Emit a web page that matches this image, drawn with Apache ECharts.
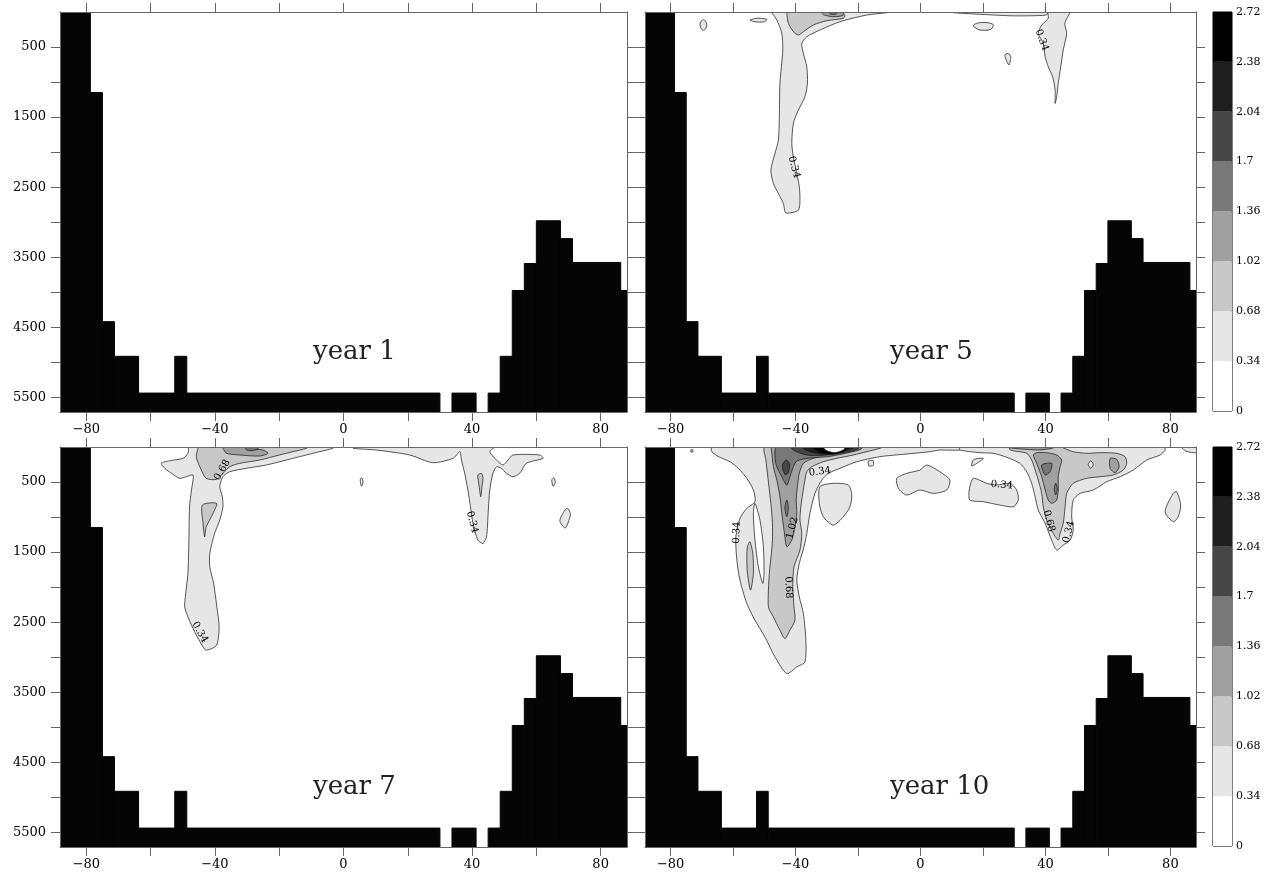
<!DOCTYPE html>
<html><head><meta charset="utf-8">
<script src="https://cdn.jsdelivr.net/npm/echarts@6/dist/echarts.min.js"></script>
<style>html,body{margin:0;padding:0;background:#fff}#c{width:1269px;height:877px}</style>
</head><body><div id="c"></div>
<script>
// ---------- data ----------
const contourLevels = [0, 0.34, 0.68, 1.02, 1.36, 1.7, 2.04, 2.38, 2.72];
const levelFills = ['#ffffff', '#e6e6e6', '#c8c8c8', '#a0a0a0', '#787878', '#464646', '#1e1e1e', '#000000'];
const xTickValues = [-80, -60, -40, -20, 0, 20, 40, 60, 80];
const xLabelValues = [-80, -40, 0, 40, 80];
const yTickValues = [500, 1000, 1500, 2000, 2500, 3000, 3500, 4000, 4500, 5000, 5500];
const yLabelValues = [500, 1500, 2500, 3500, 4500, 5500];
const panelTitles = ['year 1', 'year 5', 'year 7', 'year 10'];

// bathymetry columns (west edge, east edge, depth of top of land)
const bathyWest = [-90, -78.75, -75, -71.25, -63.75, -52.5, -48.75, 33.75, 45, 48.75, 52.5, 56.25, 60, 67.5, 71.25, 86.25];
const bathyEast = [-78.75, -75, -71.25, -63.75, -52.5, -48.75, 30, 41.25, 48.75, 52.5, 56.25, 60, 67.5, 71.25, 86.25, 90];
const bathyTop  = [0, 1150, 4420, 4915, 5440, 4915, 5440, 5440, 5440, 4915, 3975, 3590, 2980, 3235, 3575, 3975];

// ---- year 5 contour regions [lon, depth] ----
const y5_plumeW = [[-48,0],[-47.6,10],[-46.0,114],[-44.4,304],[-44.1,543],[-45.0,1019],[-45.2,1496],[-45.5,1829],[-46.6,2019],[-47.9,2258],[-47.1,2448],[-45.5,2591],[-43.9,2734],[-43.1,2868],[-39.1,2829],[-38.6,2686],[-38.8,2496],[-39.6,2305],[-40.7,2068],[-41.2,1876],[-40.7,1590],[-39.1,1400],[-37.0,1210],[-36.2,1019],[-36.4,782],[-37.5,590],[-38.0,447],[-36.4,353],[-32.2,257],[-25.8,139],[-17.2,43],[-10.8,10],[-10.5,0]];
const y5_coreW068 = [[-42.8,0],[-42.8,19],[-42.3,161],[-40.7,281],[-39.1,329],[-37.5,281],[-34.3,186],[-30.0,124],[-24.7,90],[-24.2,43],[-25.8,19],[-31.1,0]];
const y5_coreW102 = [[-31.6,0],[-31,40],[-28,67],[-24.9,50],[-24.7,0]];
const y5_coreW136 = [[-29.5,0],[-28.6,32],[-27,28],[-26.8,0]];
const y5_bandTop = [[10.5,0],[10.5,10],[20,35],[30,55],[40,45],[41,10],[41,0]];
const y5_plumeE = [[40.9,0],[40.9,90],[38.8,186],[37.7,304],[39.3,447],[39.9,639],[40.9,782],[42.3,925],[43.1,1115],[43.1,1305],[43.6,1210],[44.1,1019],[44.9,782],[45.7,543],[46.8,304],[46.2,161],[47.9,10],[48,0]];
const y5_blob1 = [[-70.6,186],[-70.2,130],[-69.5,110],[-68.8,130],[-68.4,186],[-68.8,240],[-69.5,260],[-70.2,240]];
const y5_blob2 = [[-54.6,115],[-52,88],[-49.2,105],[-50,140],[-53,140]];
const y5_blob3 = [[16.9,200],[18,160],[21,150],[23.3,180],[22.5,250],[19,257]];
const y5_blob4 = [[27,620],[28,590],[28.9,640],[28.3,757]];
const y5_labelText = ['0.34', '0.34'];
const y5_labelLon = [-40.5, 38.8];
const y5_labelDepth = [2215, 400];
const y5_labelAngle = [-75, -70];

// ---- year 7 contour regions ----
const y7_west034 = [[-47.9,0],[-48.4,90],[-49.9,161],[-54.1,196],[-56.7,233],[-55.6,304],[-53.5,376],[-51.0,447],[-48.9,424],[-46.8,400],[-47.3,614],[-47.9,853],[-48.1,1329],[-48.4,1805],[-49.1,2091],[-49.4,2282],[-48.4,2425],[-46.3,2639],[-43.7,2854],[-42.7,2901],[-39.5,2830],[-38.7,2568],[-39.4,2282],[-40.4,1948],[-41.6,1710],[-41.6,1519],[-40.1,1233],[-38.5,1043],[-37.5,853],[-37.7,710],[-38.5,567],[-37.5,424],[-35.4,353],[-30.2,304],[-24.0,257],[-17.8,186],[-9.5,90],[-3.3,19],[-3,0]];
const y7_west068 = [[-45.3,0],[-45.3,19],[-45.8,139],[-44.7,282],[-42.7,447],[-39.5,462],[-37.5,376],[-35.4,282],[-32.3,233],[-26.1,186],[-19.9,114],[-15.7,67],[-11.5,19],[-11,0]];
const y7_west102 = [[-37.5,0],[-37.5,19],[-36.4,90],[-32.3,114],[-26.1,129],[-23.5,90],[-25.0,43],[-29.2,19],[-29.5,0]];
const y7_west136 = [[-30.7,0],[-30,45],[-28,50],[-26.6,28],[-27,0]];
const y7_westInner = [[-43.9,829],[-39.5,805],[-40.6,948],[-42.7,1139],[-43.2,1282],[-43.7,1091]];
const y7_east034 = [[3.0,0],[3.0,19],[10.2,43],[20.6,114],[27.8,224],[34.1,161],[36.2,67],[36.7,186],[37.7,376],[38.7,614],[39.5,853],[40.3,1090],[41.8,1329],[43.4,1376],[44.5,1282],[45.0,947],[45.5,614],[46.5,376],[47.6,282],[49.1,304],[50.7,376],[52.7,424],[54.8,376],[56.9,233],[62.1,161],[61.0,114],[52.7,114],[51.2,186],[49.6,257],[47.6,186],[45.5,67],[47.0,4],[47,0]];
const y7_eastInner = [[41.8,400],[43.0,380],[43.4,450],[43.1,560],[42.7,710],[42.2,560]];
const y7_blob1 = [[5.2,470],[5.7,440],[6.1,500],[5.6,560]];
const y7_blob2 = [[64.8,470],[65.5,440],[65.9,510],[65.2,560]];
const y7_blob3 = [[67.3,1050],[69.5,870],[70.6,960],[69,1157]];
const y7_labelText = ['0.68', '0.34', '0.34'];
const y7_labelLon = [-37.7, -44.7, 40.0];
const y7_labelDepth = [329, 2644, 1072];
const y7_labelAngle = [60, -60, -75];

// ---- year 10 contour regions ----
const y10_west034 = [[-66.8,0],[-66.8,67],[-64.2,148],[-61.0,210],[-58.3,305],[-55.6,448],[-53.5,614],[-53.0,781],[-55.6,876],[-57.8,1019],[-59.1,1281],[-58.8,1615],[-57.8,1900],[-55.6,2234],[-53.0,2472],[-49.8,2711],[-46.6,2996],[-42.8,3234],[-39.6,3139],[-37.0,3068],[-36.7,2758],[-37.5,2377],[-38.8,2139],[-39.6,1900],[-38.8,1662],[-37.3,1424],[-36.4,1233],[-35.4,948],[-33.8,662],[-31.6,472],[-29.5,376],[-25.8,305],[-20.4,210],[-13.0,138],[-4.4,100],[3.0,67],[6.2,43],[12.6,43],[12.6,0]];
const y10_westGap = [[-53.0,805],[-51.4,1043],[-50.3,1424],[-50.1,1805],[-50.5,1948],[-51.9,1710],[-53.0,1329],[-53.5,948]];
const y10_lobe068 = [[-55.4,1424],[-54.6,1353],[-53.7,1519],[-53.5,1805],[-54.4,2044],[-55.4,1805],[-55.6,1567]];
const y10_west068 = [[-49.8,0],[-49.5,186],[-49.0,376],[-48.4,614],[-47.8,853],[-47.4,1090],[-47.4,1329],[-47.8,1550],[-48.4,1805],[-48.7,2282],[-47.1,2425],[-45.0,2615],[-43.4,2734],[-41.8,2615],[-40.2,2472],[-40.5,2282],[-40.9,1996],[-40.5,1710],[-38.6,1472],[-38.0,1233],[-38.6,1043],[-38.3,853],[-37.7,662],[-37.0,472],[-36.4,353],[-34.8,282],[-31.1,210],[-26.8,162],[-21.5,114],[-17.2,67],[-13.0,19],[-12,0]];
const y10_west102 = [[-47.6,0],[-47.6,90],[-47.1,281],[-46.0,472],[-45.0,710],[-44.4,948],[-43.7,1186],[-42.8,1424],[-41.2,1329],[-40.2,1139],[-39.6,948],[-39.8,757],[-39.4,567],[-38.8,376],[-37.5,233],[-34.3,162],[-30.0,114],[-25.8,67],[-21.5,19],[-21,0]];
const y10_west136 = [[-46,0],[-46.6,138],[-46.0,281],[-44.4,424],[-42.8,543],[-41.8,424],[-40.7,281],[-39.6,200],[-36,160],[-30,140],[-25,100],[-19.5,40],[-18.5,0]];
const y10_westDeep = [[-44.2,250],[-43,186],[-41.9,240],[-42.3,360],[-43.2,400],[-44,330]];
const y10_westStreak = [[-43.4,870],[-42.8,757],[-42.3,870],[-42.8,996]];
const y10_surf170 = [[-41.5,0],[-40,60],[-36.4,114],[-32.2,120],[-26.8,95],[-20.8,43],[-19.5,0]];
const y10_surf204 = [[-38,0],[-35.4,67],[-31.1,100],[-26.8,85],[-22,24],[-20.8,0]];
const y10_surf238 = [[-34.3,0],[-32.2,81],[-27.9,100],[-24.7,67],[-22.8,0]];
const y10_surfMax = [[-31.1,0],[-30.0,53],[-27.4,81],[-24.7,43],[-24.2,0]];
const y10_blobA = [[-7.6,448],[-4.4,376],[-0.2,329],[2.0,257],[6.2,353],[9.4,472],[8.4,614],[4.1,662],[-0.2,614],[-4.4,686],[-7.1,590]];
const y10_blobB = [[-32.2,567],[-27.9,519],[-23.1,543],[-22.0,686],[-22.6,853],[-24.7,996],[-27.9,1115],[-31.1,996],[-32.4,805]];
const y10_blobC = [[16.9,448],[21.2,519],[24.4,543],[28.6,519],[30.8,614],[31.3,757],[29.7,853],[25.4,829],[20.1,781],[15.8,757],[15.6,614]];
const y10_blobD = [[16.4,270],[17,180],[20.1,162],[18.5,220]];
const y10_blobE = [[-16.7,200],[-15.2,196],[-15.1,260],[-16.5,271]];
const y10_blobF = [[-73.5,40],[-72.9,40],[-72.9,70],[-73.5,70]];
const y10_blobG = [[78.3,924],[80.9,662],[82.0,638],[83.3,829],[82.5,996],[80.9,1067]];
const y10_east034 = [[12.6,0],[12.6,43],[19.0,81],[23.3,90],[27.6,147],[31.8,233],[34.0,353],[35.6,519],[36.7,710],[37.7,900],[39.9,1090],[42.0,1329],[43.6,1472],[45.7,1400],[47.9,1329],[48.9,1186],[48.4,996],[48.9,757],[51.1,662],[55.3,614],[59.6,496],[63.9,424],[68.1,329],[72.4,186],[76.7,114],[78.3,43],[78.0,0]];
const y10_eastEdge = [[83.6,0],[85,60],[88.5,80],[88.5,0]];
const y10_east068 = [[28.7,0],[28.7,43],[34.0,90],[35.6,186],[36.7,329],[37.7,472],[38.8,662],[39.3,853],[40.4,1043],[42.5,1233],[44.1,1329],[44.7,1233],[45.7,1090],[46.3,853],[46.8,662],[48.9,519],[53.2,447],[57.5,424],[61.7,400],[64.9,329],[66.0,233],[65.5,138],[62.8,90],[57.5,81],[53.2,90],[48.9,67],[46.8,33],[44.7,0]];
const y10_eastSpot = [[53.7,250],[54.5,196],[55.3,250],[54.5,305]];
const y10_east102 = [[36.1,114],[37.2,233],[38.8,424],[39.9,614],[40.9,757],[42.0,805],[43.6,757],[44.1,614],[44.1,424],[44.7,281],[45.2,186],[43.6,114],[40.4,81],[37.2,81]];
const y10_eastTop102 = [[27,0],[32,28],[38,42],[42,20],[43,0]];
const y10_eastBlob102 = [[60.7,162],[62.8,176],[63.6,281],[62.3,367],[60.7,305]];
const y10_east136 = [[38.8,257],[42.0,233],[41.5,353],[39.9,400]];
const y10_eastStreak = [[42.8,600],[43.3,519],[43.8,600],[43.3,686]];
const y10_labelText = ['0.34', '1.02', '0.68', '0.34', '0.34', '0.68', '0.34'];
const y10_labelLon = [-32.2, -41.0, -42.3, -58.8, 26, 41.1, 47.5];
const y10_labelDepth = [353, 1157, 2005, 1222, 543, 1057, 1214];
const y10_labelAngle = [8, 75, -88, 88, -5, -75, 75];

// region tables: [level index, polygon]  (index 8 = above top level -> white)
const year1Regions = [];
const year5Regions = [[1,y5_plumeW],[2,y5_coreW068],[3,y5_coreW102],[4,y5_coreW136],[1,y5_bandTop],[1,y5_plumeE],[1,y5_blob1],[1,y5_blob2],[1,y5_blob3],[1,y5_blob4]];
const year7Regions = [[1,y7_west034],[2,y7_west068],[3,y7_west102],[4,y7_west136],[2,y7_westInner],[1,y7_east034],[2,y7_eastInner],[1,y7_blob1],[1,y7_blob2],[1,y7_blob3]];
const year10Regions = [[1,y10_west034],[0,y10_westGap],[2,y10_lobe068],[2,y10_west068],[3,y10_west102],[4,y10_west136],[5,y10_westDeep],[4,y10_westStreak],[5,y10_surf170],[6,y10_surf204],[7,y10_surf238],[8,y10_surfMax],
  [1,y10_blobA],[1,y10_blobB],[1,y10_blobC],[1,y10_blobD],[1,y10_blobE],[1,y10_blobF],[1,y10_blobG],
  [1,y10_east034],[1,y10_eastEdge],[2,y10_east068],[1,y10_eastSpot],[3,y10_east102],[3,y10_eastTop102],[3,y10_eastBlob102],[4,y10_east136],[4,y10_eastStreak]];
const panelRegions = [year1Regions, year5Regions, year7Regions, year10Regions];
const panelLabels = [
  [[], [], [], []],
  [y5_labelText, y5_labelLon, y5_labelDepth, y5_labelAngle],
  [y7_labelText, y7_labelLon, y7_labelDepth, y7_labelAngle],
  [y10_labelText, y10_labelLon, y10_labelDepth, y10_labelAngle]
];

// ---------- layout ----------
const LON_MIN = -88.2, LON_MAX = 88.2, DEPTH_MAX = 5710;
const FONT = '"DejaVu Serif", "Liberation Serif", serif';
const grids = [
  {left: 60, top: 12, width: 567, height: 400},
  {left: 645, top: 12, width: 551, height: 400},
  {left: 60, top: 447, width: 567, height: 400},
  {left: 645, top: 447, width: 551, height: 400}
];
const showYLabels = [true, false, true, false];
const cbGrids = [
  {left: 1213, top: 12, width: 19, height: 399},
  {left: 1213, top: 447, width: 19, height: 399}
];
const titlePos = [[313, 339], [890, 339], [313, 774], [890, 774]];

const fmtNum = v => String(v).replace('-', '\u2212');
const axisLineStyle = {color: '#666', width: 1};

const option = {
  animation: false,
  backgroundColor: '#fff',
  grid: [],
  xAxis: [],
  yAxis: [],
  series: [],
  graphic: []
};

grids.forEach((g, gi) => {
  option.grid.push(Object.assign({containLabel: false}, g));
  ['bottom', 'top'].forEach((pos, k) => {
    option.xAxis.push({
      type: 'value', gridIndex: gi, position: pos, min: LON_MIN, max: LON_MAX, z: 10,
      axisLine: {show: true, onZero: false, lineStyle: axisLineStyle},
      axisTick: {show: true, length: 9, customValues: xTickValues, lineStyle: axisLineStyle},
      axisLabel: {show: k === 0, customValues: xLabelValues, formatter: fmtNum, margin: 11,
        color: '#000', fontFamily: FONT, fontSize: 13},
      splitLine: {show: false}
    });
  });
  ['left', 'right'].forEach((pos, k) => {
    option.yAxis.push({
      type: 'value', gridIndex: gi, position: pos, min: 0, max: DEPTH_MAX, inverse: true, z: 10,
      axisLine: {show: true, onZero: false, lineStyle: axisLineStyle},
      axisTick: {show: true, length: 9, customValues: yTickValues, lineStyle: axisLineStyle},
      axisLabel: {show: k === 0 && showYLabels[gi], customValues: yLabelValues, margin: 14,
        formatter: v => String(v),
        color: '#000', fontFamily: FONT, fontSize: 13},
      splitLine: {show: false}
    });
  });

  const regions = panelRegions[gi];
  const xi = gi * 2, yi = gi * 2;
  // filled contour regions
  option.series.push({
    type: 'custom', xAxisIndex: xi, yAxisIndex: yi, clip: true, z: 2, silent: true,
    encode: {x: 0, y: 1},
    data: regions.map(r => [r[1][0][0], r[1][0][1]]),
    renderItem: function (params, api) {
      const r = regions[params.dataIndex];
      const pts = r[1].map(p => api.coord(p));
      const fill = r[0] >= levelFills.length ? '#ffffff' : levelFills[r[0]];
      return {type: 'polygon', shape: {points: pts, smooth: 0.25},
        style: {fill: fill, stroke: '#111', lineWidth: 0.7}};
    }
  });
  // contour labels
  const L = panelLabels[gi];
  option.series.push({
    type: 'custom', xAxisIndex: xi, yAxisIndex: yi, clip: true, z: 3, silent: true,
    encode: {x: 0, y: 1},
    data: L[0].map((t, i) => [L[1][i], L[2][i]]),
    renderItem: function (params, api) {
      const i = params.dataIndex;
      const p = api.coord([L[1][i], L[2][i]]);
      return {type: 'text', x: p[0], y: p[1], rotation: L[3][i] * Math.PI / 180,
        style: {text: L[0][i], fill: '#000', font: '10px ' + FONT,
          align: 'center', verticalAlign: 'middle', textAlign: 'center', textVerticalAlign: 'middle'}};
    }
  });
  // bathymetry
  option.series.push({
    type: 'custom', xAxisIndex: xi, yAxisIndex: yi, clip: true, z: 4, silent: true,
    encode: {x: 0, y: 2},
    data: bathyWest.map((w, i) => [w, bathyEast[i], bathyTop[i]]),
    renderItem: function (params, api) {
      const p0 = api.coord([api.value(0), api.value(2)]);
      const p1 = api.coord([api.value(1), DEPTH_MAX]);
      return {type: 'rect', shape: {x: p0[0], y: p0[1], width: p1[0] - p0[0], height: p1[1] - p0[1]},
        style: {fill: '#050505', stroke: '#050505', lineWidth: 1}};
    }
  });
  option.graphic.push({type: 'text', left: titlePos[gi][0], top: titlePos[gi][1], z: 20,
    style: {text: panelTitles[gi], font: '26px ' + FONT, fill: '#222'}});
});

// colour bars
cbGrids.forEach((g, ci) => {
  const gi = grids.length + ci;
  option.grid.push(Object.assign({show: true, borderColor: '#000', borderWidth: 1, backgroundColor: '#fff'}, g));
  option.xAxis.push({type: 'value', gridIndex: gi, min: 0, max: 1, show: false});
  option.yAxis.push({
    type: 'value', gridIndex: gi, position: 'right', min: 0, max: 2.72,
    axisLine: {show: false}, axisTick: {show: false}, splitLine: {show: false},
    axisLabel: {customValues: contourLevels, margin: 4, color: '#000', fontFamily: FONT, fontSize: 11,
      formatter: v => String(+(+v).toFixed(2))}
  });
  const idx = option.xAxis.length - 1;
  option.series.push({
    type: 'custom', xAxisIndex: idx, yAxisIndex: idx, z: 2, silent: true,
    encode: {x: 0, y: 1},
    data: levelFills.map((c, i) => [0, contourLevels[i], contourLevels[i + 1], i]),
    renderItem: function (params, api) {
      const lo = api.value(1), hi = api.value(2);
      const p0 = api.coord([0, hi]);
      const p1 = api.coord([1, lo]);
      return {type: 'rect', shape: {x: p0[0], y: p0[1], width: p1[0] - p0[0], height: p1[1] - p0[1]},
        style: {fill: levelFills[api.value(3)], stroke: null}};
    }
  });
});

const chart = echarts.init(document.getElementById('c'), null, {renderer: 'canvas'});
chart.setOption(option);
</script>
</body></html>
